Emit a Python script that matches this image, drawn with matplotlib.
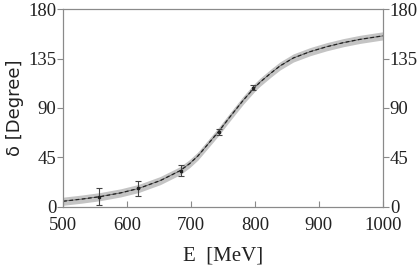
import numpy as np
import matplotlib
matplotlib.use("Agg")
import matplotlib.pyplot as plt

# ---------- data ----------
curve_E = [500, 530, 558, 590, 618, 652, 683, 698, 711, 719, 743, 761, 782,
           800, 808, 825, 839, 860, 886, 912, 938, 964, 1000]
curve_d = [5.2, 7.2, 9.4, 12.8, 16.8, 24.0, 33.0, 39.5, 46.5, 52.0, 68.5,
           82.0, 97.3, 109.0, 113.5, 121.8, 128.2, 135.5, 141.2, 145.7,
           149.4, 152.4, 155.6]
band_half = 3.7

data_E = [556, 617, 684, 743, 797]
data_d = [9.4, 16.8, 33.0, 68.0, 108.5]
data_err = [7.5, 6.5, 5.0, 3.0, 2.0]

x_ticks = [500, 600, 700, 800, 900, 1000]
y_ticks = [0, 45, 90, 135, 180]

# ---------- plot ----------
serif = "Liberation Serif"
fig = plt.figure(figsize=(4.18, 2.66), dpi=100)
ax = fig.add_axes([0.151, 0.222, 0.765, 0.744])

E = np.array(curve_E)
d = np.array(curve_d)
ax.fill_between(E, d - band_half, d + band_half, color="#c4c4c4", lw=0)
ax.plot(E, d, color="#555555", lw=0.5, solid_joinstyle="round")
ax.plot(E, d, color="#222222", lw=0.9, ls=(0, (3, 2)))
ax.errorbar(data_E, data_d, yerr=data_err, fmt="s", ms=2, color="#222222",
            ecolor="#444444", elinewidth=0.8, capsize=2.5, capthick=0.8)

ax.set_xlim(500, 1000)
ax.set_ylim(0, 180)
ax.set_xticks(x_ticks)
ax.set_yticks(y_ticks)

ax2 = ax.twinx()
ax2.set_ylim(0, 180)
ax2.set_yticks(y_ticks)

for a in (ax, ax2):
    for s in a.spines.values():
        s.set_color("#8a8a8a")
        s.set_linewidth(0.8)
    a.tick_params(colors="#8a8a8a", labelcolor="#222222", length=4, width=0.8,
                  labelsize=13.5)
    for lab in a.get_xticklabels() + a.get_yticklabels():
        lab.set_fontfamily(serif)

ax.tick_params(axis="x", direction="in", pad=7)
ax.tick_params(axis="y", direction="out", pad=1)
ax2.tick_params(axis="y", direction="out", pad=1)

ax.set_xlabel("E  [MeV]", fontfamily=serif, fontsize=15, color="#222222", labelpad=9)
ax.set_ylabel("δ [Degree]", fontfamily="DejaVu Sans", fontsize=13, color="#222222",
              labelpad=3)

fig.savefig("out.png", dpi=100)
